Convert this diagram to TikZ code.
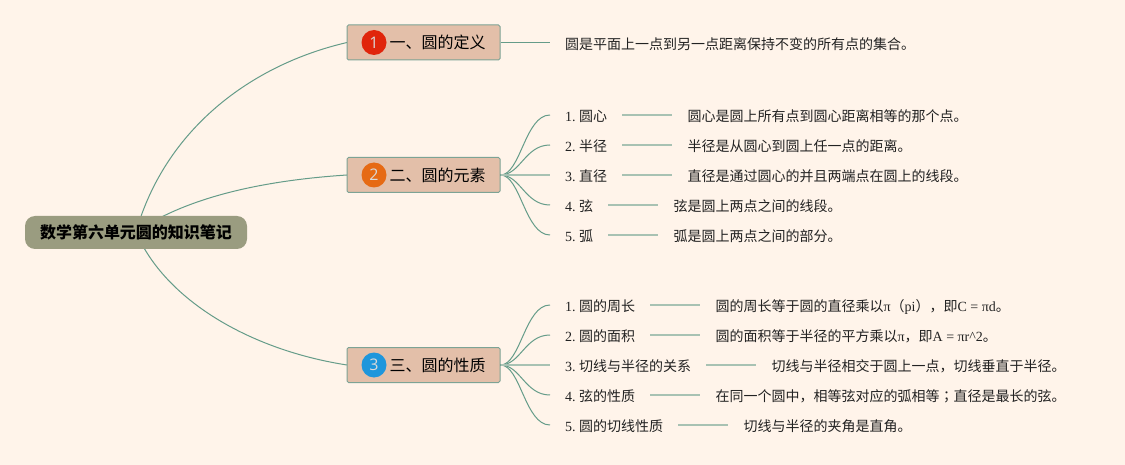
\documentclass[tikz,border=0pt]{standalone}
\usepackage{fontspec}
\setmainfont{Liberation Serif}
\newfontfamily\cjk{Noto Sans CJK SC}
\newfontfamily\cjktc{Noto Sans CJK TC}
\newfontfamily\numfont{Open Sans}
\newcommand\zh[1]{{\cjk #1}}
\usetikzlibrary{calc}
\frenchspacing
\definecolor{bgc}{HTML}{FFF4EA}
\definecolor{branchfill}{HTML}{E3BFA9}
\definecolor{edgec}{HTML}{7DA395}
\definecolor{rootfill}{HTML}{9A9C80}
\definecolor{linkc}{HTML}{659C89}
\definecolor{palec}{HTML}{A8C2B3}
\definecolor{inkc}{HTML}{222222}
\tikzset{
  x=1pt,y=-1pt,
  rootbox/.style={fill=rootfill,rounded corners=10pt,minimum width=222pt,minimum height=33pt,inner sep=0pt,font=\fontsize{16}{18}\selectfont\cjk\bfseries,text=black},
  branchbox/.style={fill=branchfill,draw=edgec,line width=1pt,rounded corners=1.5pt,minimum width=153pt,minimum height=35pt,inner sep=0pt,font=\fontsize{16}{18}\selectfont\cjk,text=black},
  badge/.style={circle,minimum size=25pt,inner sep=0pt,text=white!85!black,font=\fontsize{16}{18}\selectfont\numfont},
  leaf/.style={anchor=west,inner xsep=15pt,inner ysep=0pt,text height=13.5pt,text depth=0pt,font=\fontsize{14}{16}\selectfont,text=inkc},
  link/.style={draw=linkc,line width=1pt},
  pale/.style={draw=palec,line width=1.5pt},
}
\newcommand\bcurve[3]{\draw[link] (#1.east) .. controls ($(#1.east)+(20,0)$) and ($(#2.west)+(-25,0)$) .. (#2.west);}
\begin{document}
\begin{tikzpicture}
\useasboundingbox (0,0) rectangle (1125,465);
\fill[bgc] (0,0) rectangle (1125,465);
% main curves are drawn first: they start behind the root box
\coordinate (rc) at (136,232);
\coordinate (b1w) at (347,42.5);
\coordinate (b2w) at (347,175);
\coordinate (b3w) at (347,365);
\draw[link] (rc) .. controls (165,130) and (250,65) .. (b1w);
\draw[link] (rc) .. controls (190,195) and (270,180) .. (b2w);
\draw[link] (rc) .. controls (165,300) and (250,350) .. (b3w);

\node[rootbox] (root) at (136,232.5) {数学第六单元圆的知识笔记};

\node[branchbox] (b1) at (423.5,42.5) {\hspace*{28pt}一、圆的定义};
\node[branchbox] (b2) at (423.5,175) {\hspace*{28pt}二、圆的元素};
\node[branchbox] (b3) at (423.5,365) {\hspace*{28pt}三、圆的性质};
\node[badge,fill={rgb,255:red,224;green,37;blue,11}] (n1) at ($(b1.west)+(27.5,0)$) {1};
\node[badge,fill={rgb,255:red,230;green,106;blue,20}] (n2) at ($(b2.west)+(27.5,0)$) {2};
\node[badge,fill={rgb,255:red,30;green,150;blue,220}] (n3) at ($(b3.west)+(27.5,0)$) {3};

% branch 1
\node[leaf] (d0) at (550,42.5) {\zh{圆是平面上一点到另一点距离保持不变的所有点的集合。}};
\draw[link] (b1.east) -- (d0.west);

% branch 2
\node[leaf] (a1) at (550,115) {1. \zh{圆心}};
\node[leaf] (a2) at (550,145) {2. \zh{半径}};
\node[leaf] (a3) at (550,175) {3. \zh{直径}};
\node[leaf] (a4) at (550,205) {4. \zh{弦}};
\node[leaf] (a5) at (550,235) {5. \zh{弧}};
\node[leaf] (x1) at ($(a1.east)+(50,0)$) {\zh{圆心是圆上所有点到圆心距离相等的那个点。}};
\node[leaf] (x2) at ($(a2.east)+(50,0)$) {\zh{半径是从圆心到圆上任一点的距离。}};
\node[leaf] (x3) at ($(a3.east)+(50,0)$) {\zh{直径是通过圆心的并且两端点在圆上的线段。}};
\node[leaf] (x4) at ($(a4.east)+(50,0)$) {\zh{弦是圆上两点之间的线段。}};
\node[leaf] (x5) at ($(a5.east)+(50,0)$) {\zh{弧是圆上两点之间的部分。}};
\foreach \i in {1,2,4,5} {\bcurve{b2}{a\i}}
\draw[pale] (b2.east) -- (a3.west);
\foreach \i in {1,...,5} {\draw[pale] (a\i.east) -- (x\i.west);}

% branch 3
\node[leaf] (c1) at (550,305) {1. \zh{圆的周长}};
\node[leaf] (c2) at (550,335) {2. \zh{圆的面积}};
\node[leaf] (c3) at (550,365) {3. \zh{切线与半径的关系}};
\node[leaf] (c4) at (550,395) {4. \zh{弦的性质}};
\node[leaf] (c5) at (550,425) {5. \zh{圆的切线性质}};
\node[leaf] (y1) at ($(c1.east)+(50,0)$) {\zh{圆的周长等于圆的直径乘以}π\zh{（}pi\zh{），即}C = πd\zh{。}};
\node[leaf] (y2) at ($(c2.east)+(50,0)$) {\zh{圆的面积等于半径的平方乘以}π\zh{，即}A = πr\textasciicircum 2\zh{。}};
\node[leaf] (y3) at ($(c3.east)+(50,0)$) {\zh{切线与半径相交于圆上一点，切线垂直于半径。}};
\node[leaf] (y4) at ($(c4.east)+(50,0)$) {\zh{在同一个圆中，相等弦对应的弧相等}{\cjktc ；}\zh{直径是最长的弦。}};
\node[leaf] (y5) at ($(c5.east)+(50,0)$) {\zh{切线与半径的夹角是直角。}};
\foreach \i in {1,2,4,5} {\bcurve{b3}{c\i}}
\draw[pale] (b3.east) -- (c3.west);
\foreach \i in {1,...,5} {\draw[pale] (c\i.east) -- (y\i.west);}
\end{tikzpicture}
\end{document}
